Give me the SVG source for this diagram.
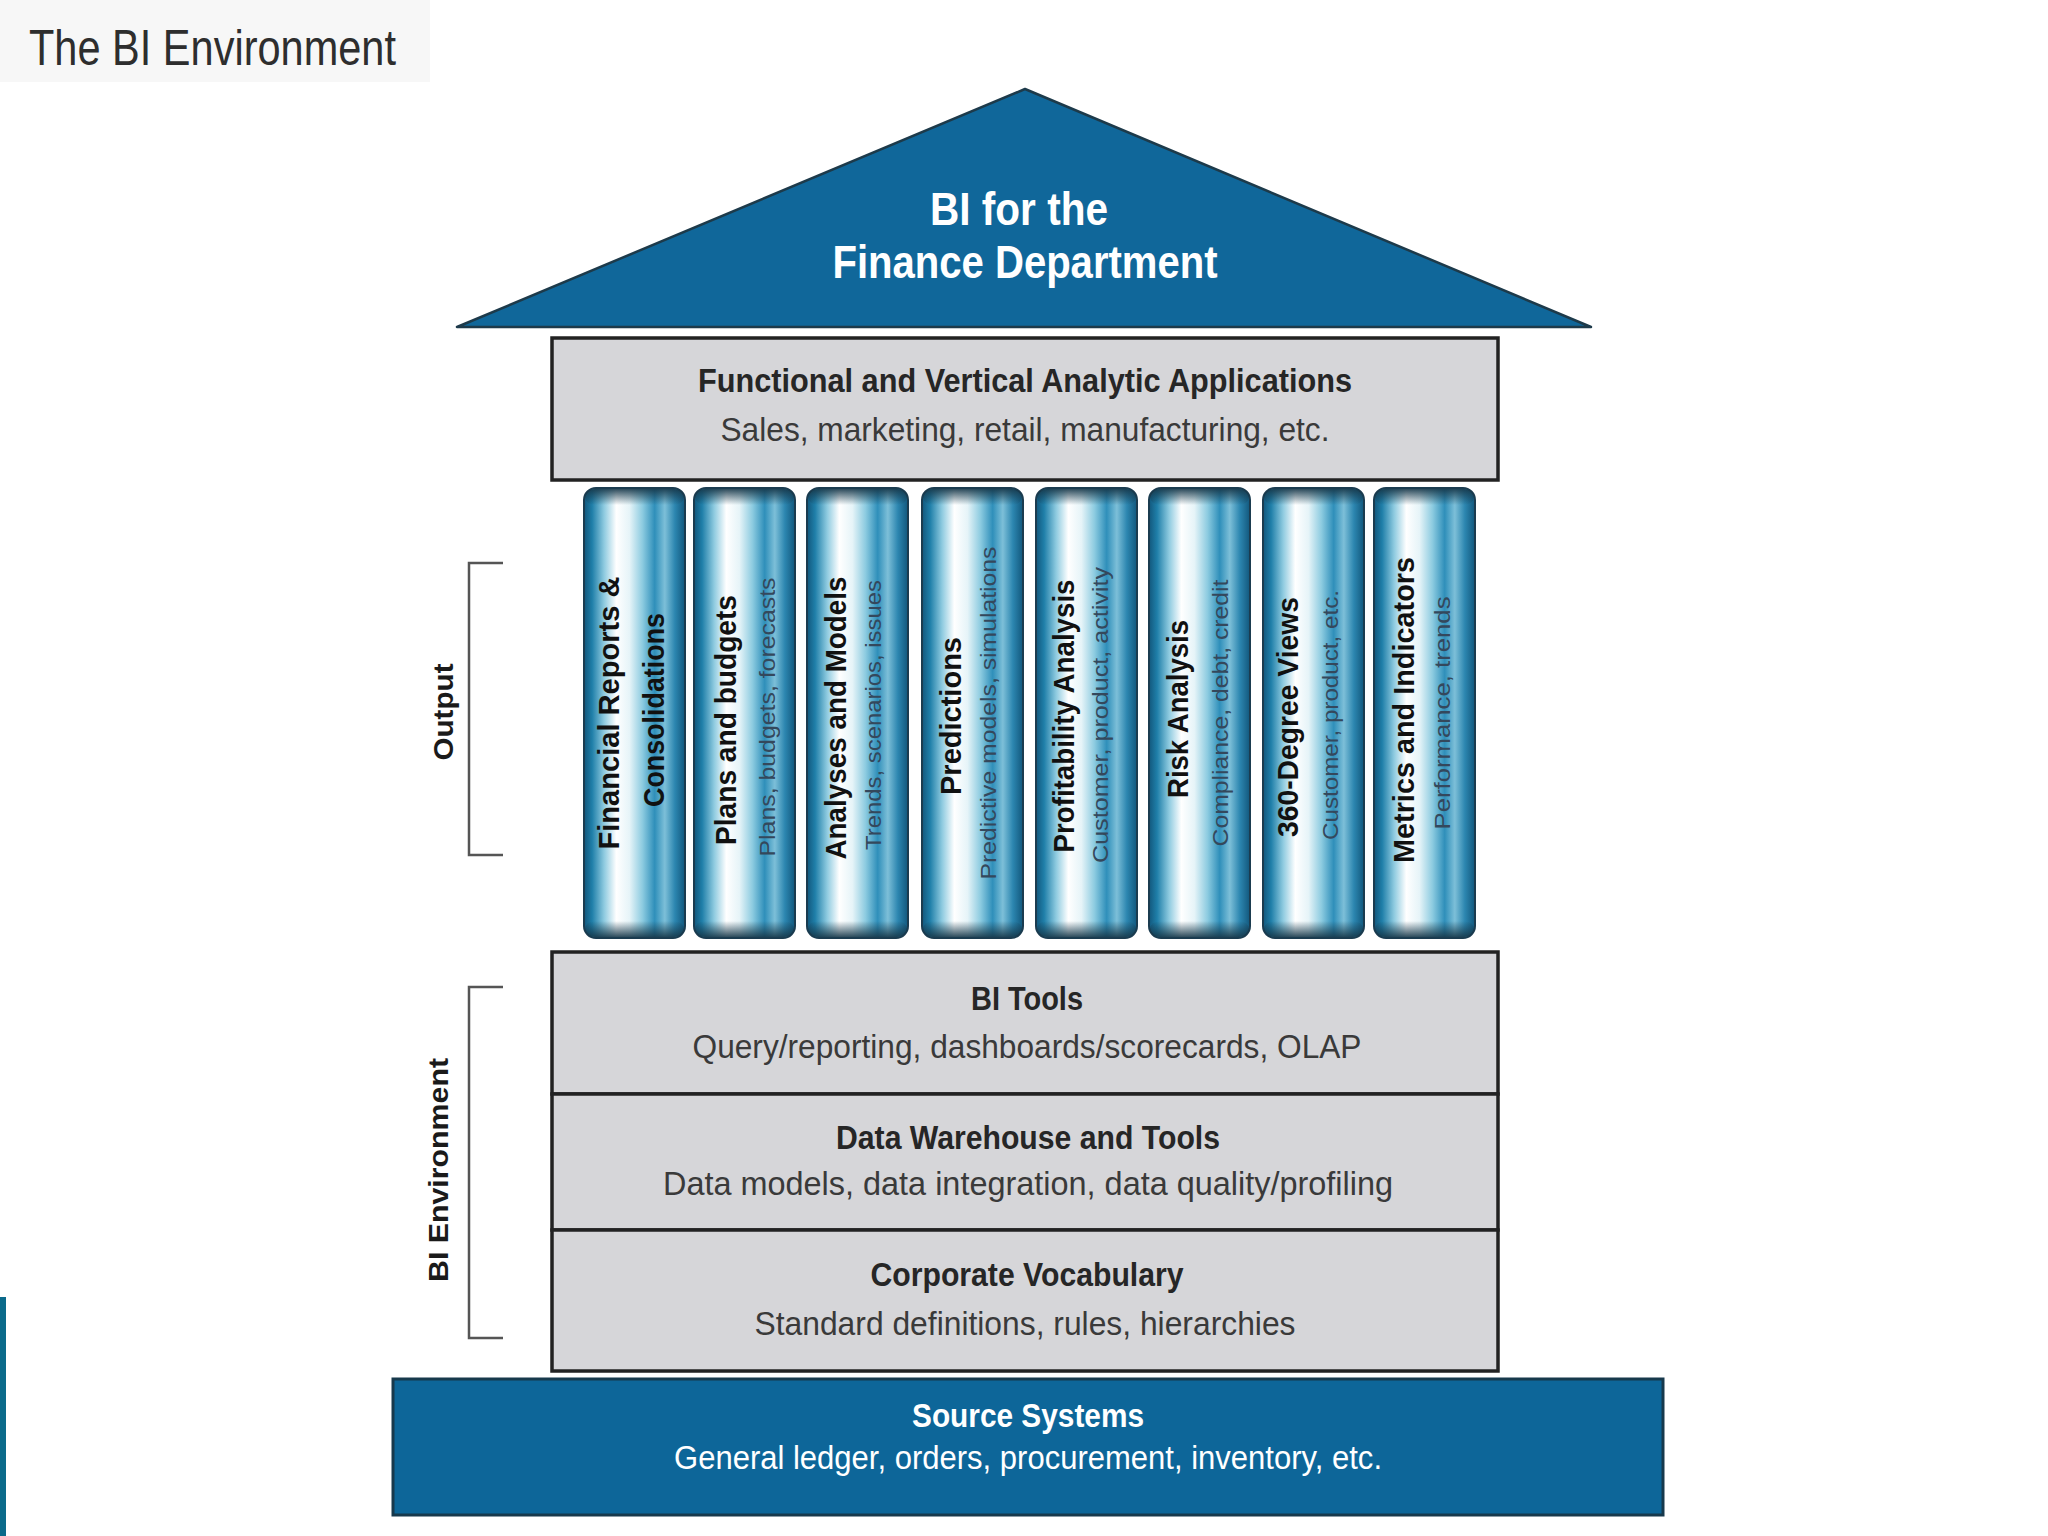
<svg xmlns="http://www.w3.org/2000/svg" width="2048" height="1536" viewBox="0 0 2048 1536">
<defs>
<linearGradient id="pillarGrad" x1="0" y1="0" x2="1" y2="0">
<stop offset="0" stop-color="#12577c"/>
<stop offset="0.08" stop-color="#1f7fa9"/>
<stop offset="0.2" stop-color="#8fcbe0"/>
<stop offset="0.32" stop-color="#ffffff"/>
<stop offset="0.45" stop-color="#e6f4f8"/>
<stop offset="0.58" stop-color="#8ccbe0"/>
<stop offset="0.7" stop-color="#2f8fba"/>
<stop offset="0.8" stop-color="#7dbfd8"/>
<stop offset="0.9" stop-color="#2c86b0"/>
<stop offset="1" stop-color="#12577c"/>
</linearGradient>
<linearGradient id="capGrad" x1="0" y1="0" x2="0" y2="1">
<stop offset="0" stop-color="#17384a" stop-opacity="0.9"/>
<stop offset="1" stop-color="#17384a" stop-opacity="0"/>
</linearGradient>
<linearGradient id="capGradB" x1="0" y1="1" x2="0" y2="0">
<stop offset="0" stop-color="#17384a" stop-opacity="0.9"/>
<stop offset="1" stop-color="#17384a" stop-opacity="0"/>
</linearGradient>
<g id="pillar">
<rect x="0" y="0" width="101" height="450" rx="12" ry="12" fill="url(#pillarGrad)" stroke="#1b3c50" stroke-width="2"/>
<rect x="1" y="1" width="99" height="16" rx="10" ry="10" fill="url(#capGrad)"/>
<rect x="1" y="433" width="99" height="16" rx="10" ry="10" fill="url(#capGradB)"/>
</g>
</defs>
<style>
.box{fill:#d6d6d9;stroke:#222;stroke-width:3.5}
.t{font-family:"Liberation Sans",Arial,sans-serif;text-anchor:middle}
.hd{font-weight:bold;fill:#262626;font-size:34px}
.sb{fill:#3a3a3a;font-size:34px}
.wh{fill:#ffffff;font-weight:bold}
.pm{font-weight:bold;fill:#111;font-size:30px}
.ps{fill:#34485c;font-size:22px}
.br{fill:none;stroke:#555;stroke-width:2.5}
.side{font-weight:bold;fill:#1a1a1a;font-size:28px}
</style>
<rect x="0" y="0" width="2048" height="1536" fill="#ffffff"/>
<rect x="0" y="0" width="430" height="82" fill="#f7f7f7"/>
<text x="29" y="65" font-family="Liberation Sans,Arial,sans-serif" font-size="50" fill="#2e2e2e" textLength="367" lengthAdjust="spacingAndGlyphs">The BI Environment</text>
<rect x="0" y="1297" width="6" height="239" fill="#0b6a8a"/>

<g id="roof">
<polygon points="1025,89 457,327 1591,327" fill="#10679a" stroke="#1d3a4a" stroke-width="2.5" stroke-linejoin="round"/>
<text class="t wh" x="1019" y="225" font-size="46" textLength="178" lengthAdjust="spacingAndGlyphs">BI for the</text>
<text class="t wh" x="1025" y="278" font-size="46" textLength="385" lengthAdjust="spacingAndGlyphs">Finance Department</text>
</g>

<g id="apps">
<rect class="box" x="552" y="338" width="946" height="142"/>
<text class="t hd" x="1025" y="392" textLength="654" lengthAdjust="spacingAndGlyphs">Functional and Vertical Analytic Applications</text>
<text class="t sb" x="1025" y="441" textLength="609" lengthAdjust="spacingAndGlyphs">Sales, marketing, retail, manufacturing, etc.</text>
</g>

<g id="pillar1"><use href="#pillar" x="584" y="488"/>
<text class="t pm" transform="translate(619,713) rotate(-90)" textLength="273" lengthAdjust="spacingAndGlyphs">Financial Reports &amp;</text>
<text class="t pm" transform="translate(664,710) rotate(-90)" textLength="194" lengthAdjust="spacingAndGlyphs">Consolidations</text>
</g>
<g id="pillar2"><use href="#pillar" x="694" y="488"/>
<text class="t pm" transform="translate(736,720) rotate(-90)" textLength="250" lengthAdjust="spacingAndGlyphs">Plans and budgets</text>
<text class="t ps" transform="translate(775,717) rotate(-90)" textLength="279" lengthAdjust="spacingAndGlyphs">Plans, budgets, forecasts</text>
</g>
<g id="pillar3"><use href="#pillar" x="807" y="488"/>
<text class="t pm" transform="translate(846,718) rotate(-90)" textLength="283" lengthAdjust="spacingAndGlyphs">Analyses and Models</text>
<text class="t ps" transform="translate(881,715) rotate(-90)" textLength="270" lengthAdjust="spacingAndGlyphs">Trends, scenarios, issues</text>
</g>
<g id="pillar4"><use href="#pillar" x="922" y="488"/>
<text class="t pm" transform="translate(961,716) rotate(-90)" textLength="158" lengthAdjust="spacingAndGlyphs">Predictions</text>
<text class="t ps" transform="translate(996,713) rotate(-90)" textLength="333" lengthAdjust="spacingAndGlyphs">Predictive models, simulations</text>
</g>
<g id="pillar5"><use href="#pillar" x="1036" y="488"/>
<text class="t pm" transform="translate(1074,716) rotate(-90)" textLength="273" lengthAdjust="spacingAndGlyphs">Profitability Analysis</text>
<text class="t ps" transform="translate(1108,715) rotate(-90)" textLength="296" lengthAdjust="spacingAndGlyphs">Customer, product, activity</text>
</g>
<g id="pillar6"><use href="#pillar" x="1149" y="488"/>
<text class="t pm" transform="translate(1188,709) rotate(-90)" textLength="178" lengthAdjust="spacingAndGlyphs">Risk Analysis</text>
<text class="t ps" transform="translate(1228,713) rotate(-90)" textLength="267" lengthAdjust="spacingAndGlyphs">Compliance, debt, credit</text>
</g>
<g id="pillar7"><use href="#pillar" x="1263" y="488"/>
<text class="t pm" transform="translate(1298,717) rotate(-90)" textLength="240" lengthAdjust="spacingAndGlyphs">360-Degree Views</text>
<text class="t ps" transform="translate(1338,715) rotate(-90)" textLength="250" lengthAdjust="spacingAndGlyphs">Customer, product, etc.</text>
</g>
<g id="pillar8"><use href="#pillar" x="1374" y="488"/>
<text class="t pm" transform="translate(1414,710) rotate(-90)" textLength="306" lengthAdjust="spacingAndGlyphs">Metrics and Indicators</text>
<text class="t ps" transform="translate(1450,713) rotate(-90)" textLength="233" lengthAdjust="spacingAndGlyphs">Performance, trends</text>
</g>

<g id="bitools">
<rect class="box" x="552" y="952" width="946" height="142"/>
<text class="t hd" x="1027" y="1010" font-size="36" textLength="112" lengthAdjust="spacingAndGlyphs">BI Tools</text>
<text class="t sb" x="1027" y="1058" textLength="669" lengthAdjust="spacingAndGlyphs">Query/reporting, dashboards/scorecards, OLAP</text>
</g>
<g id="datawarehouse">
<rect class="box" x="552" y="1094" width="946" height="136"/>
<text class="t hd" x="1028" y="1149" textLength="384" lengthAdjust="spacingAndGlyphs">Data Warehouse and Tools</text>
<text class="t sb" x="1028" y="1195" textLength="730" lengthAdjust="spacingAndGlyphs">Data models, data integration, data quality/profiling</text>
</g>
<g id="vocabulary">
<rect class="box" x="552" y="1230" width="946" height="141"/>
<text class="t hd" x="1027" y="1286" textLength="313" lengthAdjust="spacingAndGlyphs">Corporate Vocabulary</text>
<text class="t sb" x="1025" y="1335" textLength="541" lengthAdjust="spacingAndGlyphs">Standard definitions, rules, hierarchies</text>
</g>

<g id="source">
<rect x="393" y="1379" width="1270" height="136" fill="#0d6699" stroke="#17394c" stroke-width="3"/>
<text class="t wh" x="1028" y="1427" font-size="34" textLength="232" lengthAdjust="spacingAndGlyphs">Source Systems</text>
<text class="t" x="1028" y="1469" font-size="34" fill="#ffffff" textLength="708" lengthAdjust="spacingAndGlyphs">General ledger, orders, procurement, inventory, etc.</text>
</g>

<g id="output-bracket">
<polyline class="br" points="503,563 469,563 469,855 503,855"/>
<text class="t side" transform="translate(453,712) rotate(-90)" textLength="97" lengthAdjust="spacingAndGlyphs">Output</text>
</g>
<g id="env-bracket">
<polyline class="br" points="503,987 469,987 469,1338 503,1338"/>
<text class="t side" transform="translate(448,1170) rotate(-90)" textLength="224" lengthAdjust="spacingAndGlyphs">BI Environment</text>
</g>
</svg>
